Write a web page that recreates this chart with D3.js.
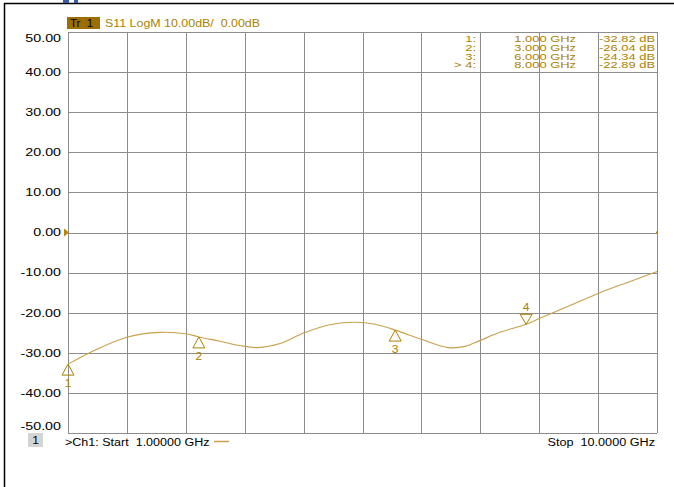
<!DOCTYPE html>
<html>
<head>
<meta charset="utf-8">
<script src="https://cdn.jsdelivr.net/npm/d3@7"></script>
<style>
  body { margin: 0; background: #fff; }
  svg { display: block; font-family: "Liberation Sans", Arial, sans-serif; }
</style>
</head>
<body>
<div id="chart"></div>
<script>
// trace S11
const freqs = [1.00, 1.34, 1.90, 2.41, 2.82, 3.00, 3.32, 3.63, 3.90, 4.24, 4.61, 5.00, 5.39, 5.69, 6.00, 6.41, 6.81, 7.07, 7.30, 7.60, 8.00, 8.21, 8.67, 9.13, 9.59, 10.00];
const s11 = [-32.82, -29.9, -26.1, -24.9, -25.3, -26.04, -27.1, -28.2, -28.7, -27.7, -25.0, -23.0, -22.4, -22.9, -24.34, -26.7, -28.7, -28.4, -26.9, -24.9, -22.89, -21.4, -18.2, -15.0, -12.2, -9.7];
const markerIds = ["1", "2", "3", "4"];
const markerFreqs = [1.0, 3.0, 6.0, 8.0];
const markerVals = [-32.82, -26.04, -24.34, -22.89];
const yTicks = [50, 40, 30, 20, 10, 0, -10, -20, -30, -40, -50];
const xTicks = [1, 1.9, 2.8, 3.7, 4.6, 5.5, 6.4, 7.3, 8.2, 9.1, 10];

(function () {
  const W = 674, H = 487;
  const left = 68, right = 657, top = 32, bottom = 433;
  const gold = "#a98200";
  const traceColor = "#c8a04c";
  const gridColor = "#8c8c8c";

  const svg = d3.select("#chart").append("svg")
    .attr("width", W).attr("height", H);

  const x = d3.scaleLinear().domain([1, 10]).range([left, right]);
  const y = d3.scaleLinear().domain([-50, 50]).range([bottom, top]);

  // the analyser font is wider than Liberation Sans, so stretch it sideways
  function label(px, py, str, opts) {
    const o = Object.assign({ size: 11, sx: 1.15, anchor: "start", color: "#000" }, opts);
    return svg.append("text")
      .attr("transform", "translate(" + px + "," + py + ") scale(" + o.sx + ",1)")
      .attr("text-anchor", o.anchor)
      .attr("font-size", o.size)
      .attr("fill", o.color)
      .attr("xml:space", "preserve")
      .text(str);
  }

  // outer frame (only top and left show)
  svg.append("line").attr("x1", 4).attr("y1", 3.5).attr("x2", W).attr("y2", 3.5)
    .attr("stroke", "#000").attr("stroke-width", 1.5);
  svg.append("line").attr("x1", 4.5).attr("y1", 3).attr("x2", 4.5).attr("y2", H)
    .attr("stroke", "#000").attr("stroke-width", 1.5);
  // bits of blue caption cut off above the frame
  svg.append("rect").attr("x", 63).attr("y", 0).attr("width", 6).attr("height", 3).attr("fill", "#3a5aa8");
  svg.append("rect").attr("x", 74).attr("y", 0).attr("width", 4).attr("height", 3).attr("fill", "#3a5aa8");

  // grid
  svg.append("g").selectAll("line").data(yTicks).join("line")
    .attr("x1", left).attr("x2", right)
    .attr("y1", d => Math.round(y(d)) + 0.5).attr("y2", d => Math.round(y(d)) + 0.5)
    .attr("stroke", gridColor).attr("stroke-width", 1);
  svg.append("g").selectAll("line").data(xTicks).join("line")
    .attr("y1", top).attr("y2", bottom)
    .attr("x1", d => Math.round(x(d)) + 0.5).attr("x2", d => Math.round(x(d)) + 0.5)
    .attr("stroke", gridColor).attr("stroke-width", 1);

  // y labels (top & bottom pushed inside)
  yTicks.forEach(d => {
    const cy = d === 50 ? y(d) + 6 : d === -50 ? y(d) - 7 : y(d);
    label(61, cy + 3.8, d.toFixed(2), { size: 10.5, sx: 1.36, anchor: "end" });
  });

  // header
  svg.append("rect").attr("x", 67).attr("y", 17).attr("width", 33).attr("height", 12)
    .attr("fill", "#9c6e00");
  label(70, 27, "Tr  1", { size: 11, sx: 1.05 });
  label(105, 27, "S11 LogM 10.00dB/  0.00dB", { size: 11, sx: 1.13, color: gold });

  // reference markers at 0 dB
  svg.append("path")
    .attr("d", d3.line()([[64, y(0) - 4], [69, y(0)], [64, y(0) + 4]]) + "Z")
    .attr("fill", "#b8860b");
  svg.append("rect").attr("x", right - 1).attr("y", y(0) - 1).attr("width", 2).attr("height", 2)
    .attr("fill", "#b8860b");

  // trace
  const line = d3.line()
    .x((d, i) => x(freqs[i]))
    .y(d => y(d))
    .curve(d3.curveCatmullRom.alpha(0.5));
  svg.append("path").datum(s11)
    .attr("d", line)
    .attr("fill", "none")
    .attr("stroke", traceColor)
    .attr("stroke-width", 1.1);

  // markers: active one (last) is inverted above the trace
  markerIds.forEach((id, i) => {
    const mx = x(markerFreqs[i]), my = y(markerVals[i]);
    const active = i === markerIds.length - 1;
    const pts = active
      ? [[mx - 6, my - 10], [mx + 6, my - 10], [mx, my]]
      : [[mx, my], [mx - 6, my + 11], [mx + 6, my + 11]];
    svg.append("path").attr("d", d3.line()(pts) + "Z")
      .attr("fill", "none").attr("stroke", gold).attr("stroke-width", 1);
    label(mx, active ? my - 13 : my + 23, id, { size: 11, sx: 1.1, anchor: "middle", color: gold });
  });

  // marker table
  markerIds.forEach((id, i) => {
    const ty = 42 + i * 8.8;
    const opt = { size: 9.5, sx: 1.36, anchor: "end", color: gold };
    label(476, ty, (i === markerIds.length - 1 ? "> " : "") + id + ":", opt);
    label(576, ty, markerFreqs[i].toFixed(3) + " GHz", opt);
    label(655, ty, markerVals[i].toFixed(2) + " dB", opt);
  });

  // footer
  svg.append("rect").attr("x", 28).attr("y", 433).attr("width", 15).attr("height", 14)
    .attr("fill", "#d4d4d4");
  label(35.5, 444, "1", { size: 11, sx: 1.1, anchor: "middle" });
  label(65, 446, ">Ch1: Start  1.00000 GHz", { size: 11, sx: 1.14 });
  svg.append("line").attr("x1", 214).attr("x2", 229).attr("y1", 441.5).attr("y2", 441.5)
    .attr("stroke", traceColor).attr("stroke-width", 1.5);
  label(655, 446, "Stop  10.0000 GHz", { size: 11, sx: 1.15, anchor: "end" });
})();
</script>
</body>
</html>
